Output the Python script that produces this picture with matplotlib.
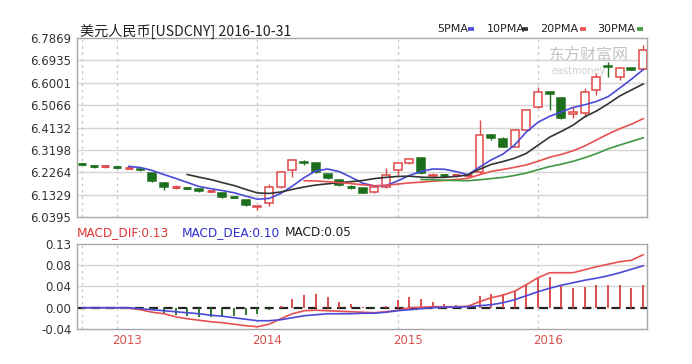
import numpy as np
import pandas as pd
import matplotlib
matplotlib.use("Agg")
import matplotlib.pyplot as plt
from matplotlib.patches import Rectangle
from matplotlib.lines import Line2D

plt.rcParams['font.family'] = ['DejaVu Sans', 'Noto Sans CJK SC']

# monthly candles, 2012-10 .. 2016-10
months = pd.period_range('2012-10', '2016-10', freq='M')

opens = [6.262, 6.254, 6.250, 6.250, 6.243, 6.240, 6.223, 6.181, 6.163, 6.162,
         6.155, 6.147, 6.140, 6.124, 6.111, 6.080, 6.098, 6.165, 6.235, 6.270,
         6.265, 6.219, 6.194, 6.166, 6.160, 6.143, 6.165, 6.236, 6.265, 6.286,
         6.210, 6.214, 6.212, 6.213, 6.227, 6.380, 6.366, 6.332, 6.403, 6.499,
         6.563, 6.536, 6.470, 6.474, 6.570, 6.670, 6.624, 6.660, 6.657]
highs = [6.263, 6.257, 6.258, 6.252, 6.250, 6.241, 6.225, 6.184, 6.172, 6.163,
         6.158, 6.150, 6.142, 6.125, 6.112, 6.086, 6.178, 6.232, 6.282, 6.278,
         6.268, 6.221, 6.196, 6.172, 6.162, 6.168, 6.244, 6.268, 6.286, 6.288,
         6.225, 6.220, 6.218, 6.218, 6.445, 6.386, 6.372, 6.405, 6.490, 6.582,
         6.566, 6.540, 6.499, 6.578, 6.641, 6.687, 6.666, 6.662, 6.758]
lows = [6.256, 6.246, 6.246, 6.242, 6.240, 6.230, 6.187, 6.152, 6.158, 6.158,
        6.145, 6.146, 6.118, 6.119, 6.087, 6.069, 6.085, 6.162, 6.206, 6.255,
        6.225, 6.200, 6.171, 6.155, 6.138, 6.140, 6.160, 6.215, 6.262, 6.221,
        6.205, 6.206, 6.208, 6.210, 6.220, 6.360, 6.330, 6.330, 6.400, 6.495,
        6.486, 6.449, 6.453, 6.457, 6.549, 6.624, 6.611, 6.652, 6.655]
closes = [6.258, 6.250, 6.253, 6.247, 6.246, 6.234, 6.190, 6.166, 6.167, 6.160,
          6.150, 6.149, 6.123, 6.121, 6.090, 6.085, 6.165, 6.227, 6.277, 6.265,
          6.227, 6.202, 6.173, 6.163, 6.140, 6.165, 6.215, 6.265, 6.282, 6.223,
          6.215, 6.212, 6.214, 6.216, 6.382, 6.368, 6.332, 6.403, 6.486, 6.561,
          6.555, 6.453, 6.476, 6.562, 6.624, 6.665, 6.662, 6.655, 6.737]

nan = np.nan
ma5 = [nan] * 4 + [6.251, 6.246, 6.234, 6.217, 6.201, 6.184, 6.167, 6.158, 6.150, 6.141,
                   6.127, 6.114, 6.117, 6.138, 6.169, 6.204, 6.232, 6.240, 6.229, 6.206,
                   6.181, 6.169, 6.171, 6.190, 6.213, 6.230, 6.240, 6.239, 6.229, 6.216,
                   6.248, 6.278, 6.302, 6.340, 6.394, 6.435, 6.460, 6.478, 6.497, 6.508,
                   6.522, 6.542, 6.578, 6.615, 6.655]
ma10 = [nan] * 9 + [6.217, 6.206, 6.196, 6.183, 6.171, 6.155, 6.140, 6.138, 6.144, 6.155,
                    6.165, 6.173, 6.178, 6.183, 6.187, 6.192, 6.200, 6.205, 6.209, 6.210,
                    6.206, 6.204, 6.205, 6.209, 6.215, 6.239, 6.259, 6.271, 6.285, 6.305,
                    6.339, 6.373, 6.397, 6.423, 6.458, 6.482, 6.512, 6.545, 6.570, 6.595]
ma20 = [nan] * 19 + [6.191, 6.190, 6.187, 6.183, 6.179, 6.174, 6.170, 6.172, 6.177, 6.182,
                     6.185, 6.189, 6.192, 6.196, 6.201, 6.216, 6.230, 6.238, 6.247, 6.257,
                     6.272, 6.289, 6.301, 6.316, 6.336, 6.361, 6.386, 6.408, 6.427, 6.450]
ma30 = [nan] * 29 + [6.196, 6.195, 6.193, 6.192, 6.191, 6.195, 6.200, 6.205, 6.213, 6.223,
                     6.237, 6.250, 6.260, 6.272, 6.287, 6.304, 6.324, 6.340, 6.355, 6.370]

dif = [0.000, 0.000, 0.000, 0.000, -0.001, -0.004, -0.009, -0.012, -0.018, -0.022,
       -0.025, -0.028, -0.030, -0.033, -0.036, -0.038, -0.033, -0.022, -0.012, -0.006,
       -0.005, -0.006, -0.007, -0.008, -0.009, -0.010, -0.008, -0.005, 0.000, 0.001,
       0.002, 0.002, 0.002, 0.003, 0.012, 0.020, 0.025, 0.033, 0.046, 0.060,
       0.070, 0.070, 0.070, 0.076, 0.082, 0.087, 0.092, 0.095, 0.106]
dea = [0.000, 0.000, 0.000, 0.000, 0.000, -0.002, -0.004, -0.006, -0.008, -0.010,
       -0.012, -0.015, -0.017, -0.020, -0.023, -0.026, -0.026, -0.024, -0.020, -0.016,
       -0.014, -0.012, -0.012, -0.012, -0.011, -0.011, -0.009, -0.006, -0.004, -0.002,
       0.000, 0.001, 0.001, 0.002, 0.004, 0.006, 0.010, 0.016, 0.024, 0.032,
       0.039, 0.045, 0.050, 0.055, 0.059, 0.064, 0.070, 0.077, 0.084]
macd = [0.000, 0.000, 0.000, 0.000, 0.000, -0.002, -0.003, -0.012, -0.014, -0.016,
        -0.018, -0.018, -0.017, -0.016, -0.015, -0.013, -0.005, 0.004, 0.018, 0.026,
        0.028, 0.022, 0.012, 0.008, 0.002, -0.002, 0.003, 0.016, 0.022, 0.018,
        0.012, 0.008, 0.006, 0.004, 0.024, 0.028, 0.028, 0.034, 0.048, 0.062,
        0.062, 0.046, 0.040, 0.042, 0.046, 0.046, 0.046, 0.040, 0.046]

price_ticks = ['6.0395', '6.1329', '6.2264', '6.3198', '6.4132', '6.5066', '6.6001', '6.6935', '6.7869']
macd_ticks = ['-0.04', '0.00', '0.04', '0.08', '0.13']
ma_names = ['5PMA', '10PMA', '20PMA', '30PMA']

RED = '#e04848'
GREEN = '#1c6e1c'
GRID = '#d4d4d4'
SPINE = '#a8a8a8'
MA_COLORS = ['#4a4ad8', '#333333', '#e85050', '#3f9a3f']

x = np.arange(len(months))
year_idx = [i for i, m in enumerate(months) if m.month == 1]
year_lbl = [str(months[i].year) for i in year_idx]

fig = plt.figure(figsize=(6.92, 3.64), dpi=100)
ax = fig.add_axes([0.1113, 0.4038, 0.8237, 0.4918])
ax2 = fig.add_axes([0.1113, 0.0962, 0.8237, 0.2335])

for a in (ax, ax2):
    a.set_xlim(-0.43, 48.33)
    for s in a.spines.values():
        s.set_color(SPINE)
        s.set_linewidth(1.0)
    a.tick_params(length=0, labelsize=8.5, colors='#333333', pad=4)
    a.set_xticks([])
    for xi in [0] + year_idx:
        a.axvline(xi, color='#c4c4c4', lw=0.9, ls=(0, (2, 3)), zorder=0)

# price panel
ymin, ymax = 6.0395, 6.7869
ax.set_ylim(ymin, ymax)
levels = np.linspace(ymin, ymax, len(price_ticks))
ax.set_yticks(levels)
ax.set_yticklabels(price_ticks)
for lv in levels[1:-1]:
    ax.axhline(lv, color=GRID, lw=1.0, zorder=0)

w = 0.68
for i in x:
    o, h, l, c = opens[i], highs[i], lows[i], closes[i]
    up = c >= o
    col = RED if up else GREEN
    ax.vlines(i, l, h, color=col, lw=1.0, zorder=2)
    bot = min(o, c)
    ht = abs(c - o)
    if ht < 0.004:
        ax.hlines((o + c) / 2, i - w / 2, i + w / 2, color=col, lw=2.0, zorder=3)
    else:
        ax.add_patch(Rectangle((i - w / 2, bot), w, ht, facecolor='white' if up else col,
                               edgecolor=col, lw=1.1, zorder=3))

for ma, col in zip([ma5, ma10, ma20, ma30], MA_COLORS):
    ax.plot(x, ma, color=col, lw=1.2, zorder=4)

# watermark
fig.text(0.793, 0.846, '东方财富网', fontsize=11.5, color='#c4c4c4',
         family=['Noto Sans CJK SC'], va='center', ha='left', zorder=1)
fig.text(0.797, 0.806, 'eastmoney', fontsize=7, color='#cfcfcf', va='center', ha='left')

# titles
fig.text(0.116, 0.914, '美元人民币[USDCNY] 2016-10-31', fontsize=10.2,
         family=['Noto Sans CJK SC', 'DejaVu Sans'], color='#222222', va='center')
leg_text_x = [0.6315, 0.7038, 0.7803, 0.8627]
leg_bar_x = [0.676, 0.754, 0.838, 0.920]
for name, col, tx, bx in zip(ma_names, MA_COLORS, leg_text_x, leg_bar_x):
    fig.text(tx, 0.920, name, fontsize=8, color='#222222', va='center', ha='left')
    fig.add_artist(Line2D([bx, bx + 0.009], [0.920, 0.920], color=col, lw=2.6,
                          transform=fig.transFigure, solid_capstyle='butt'))

# MACD panel
lo, hi = -0.0425, 0.1275
ax2.set_ylim(lo, hi)
mlevels = np.linspace(lo, hi, len(macd_ticks))
ax2.set_yticks(mlevels)
ax2.set_yticklabels(macd_ticks)
for lv in mlevels[2:-1]:
    ax2.axhline(lv, color=GRID, lw=1.0, zorder=0)
ax2.axhline(0, color='#222222', lw=1.6, ls=(0, (4, 2.5)), zorder=2)

mv = np.array(macd)
ax2.vlines(x[mv > 0], 0, mv[mv > 0], color='#d84040', lw=1.3, zorder=3)
ax2.vlines(x[mv < 0], 0, mv[mv < 0], color=GREEN, lw=1.3, zorder=3)
ax2.plot(x, dif, color='#e85050', lw=1.2, zorder=4)
ax2.plot(x, dea, color='#4a4ad8', lw=1.2, zorder=4)

for xi, lb in zip(year_idx, year_lbl):
    ax2.text(xi + 0.85, lo - 0.011, lb, color='#d85050', fontsize=8.5,
             ha='center', va='top')

fig.text(0.111, 0.360, 'MACD_DIF:0.13', color='#e03838', fontsize=8.7, va='center')
fig.text(0.263, 0.360, 'MACD_DEA:0.10', color='#3030d0', fontsize=8.7, va='center')
fig.text(0.412, 0.360, 'MACD:0.05', color='#222222', fontsize=8.7, va='center')

fig.savefig('out.png', dpi=100, facecolor='white')
